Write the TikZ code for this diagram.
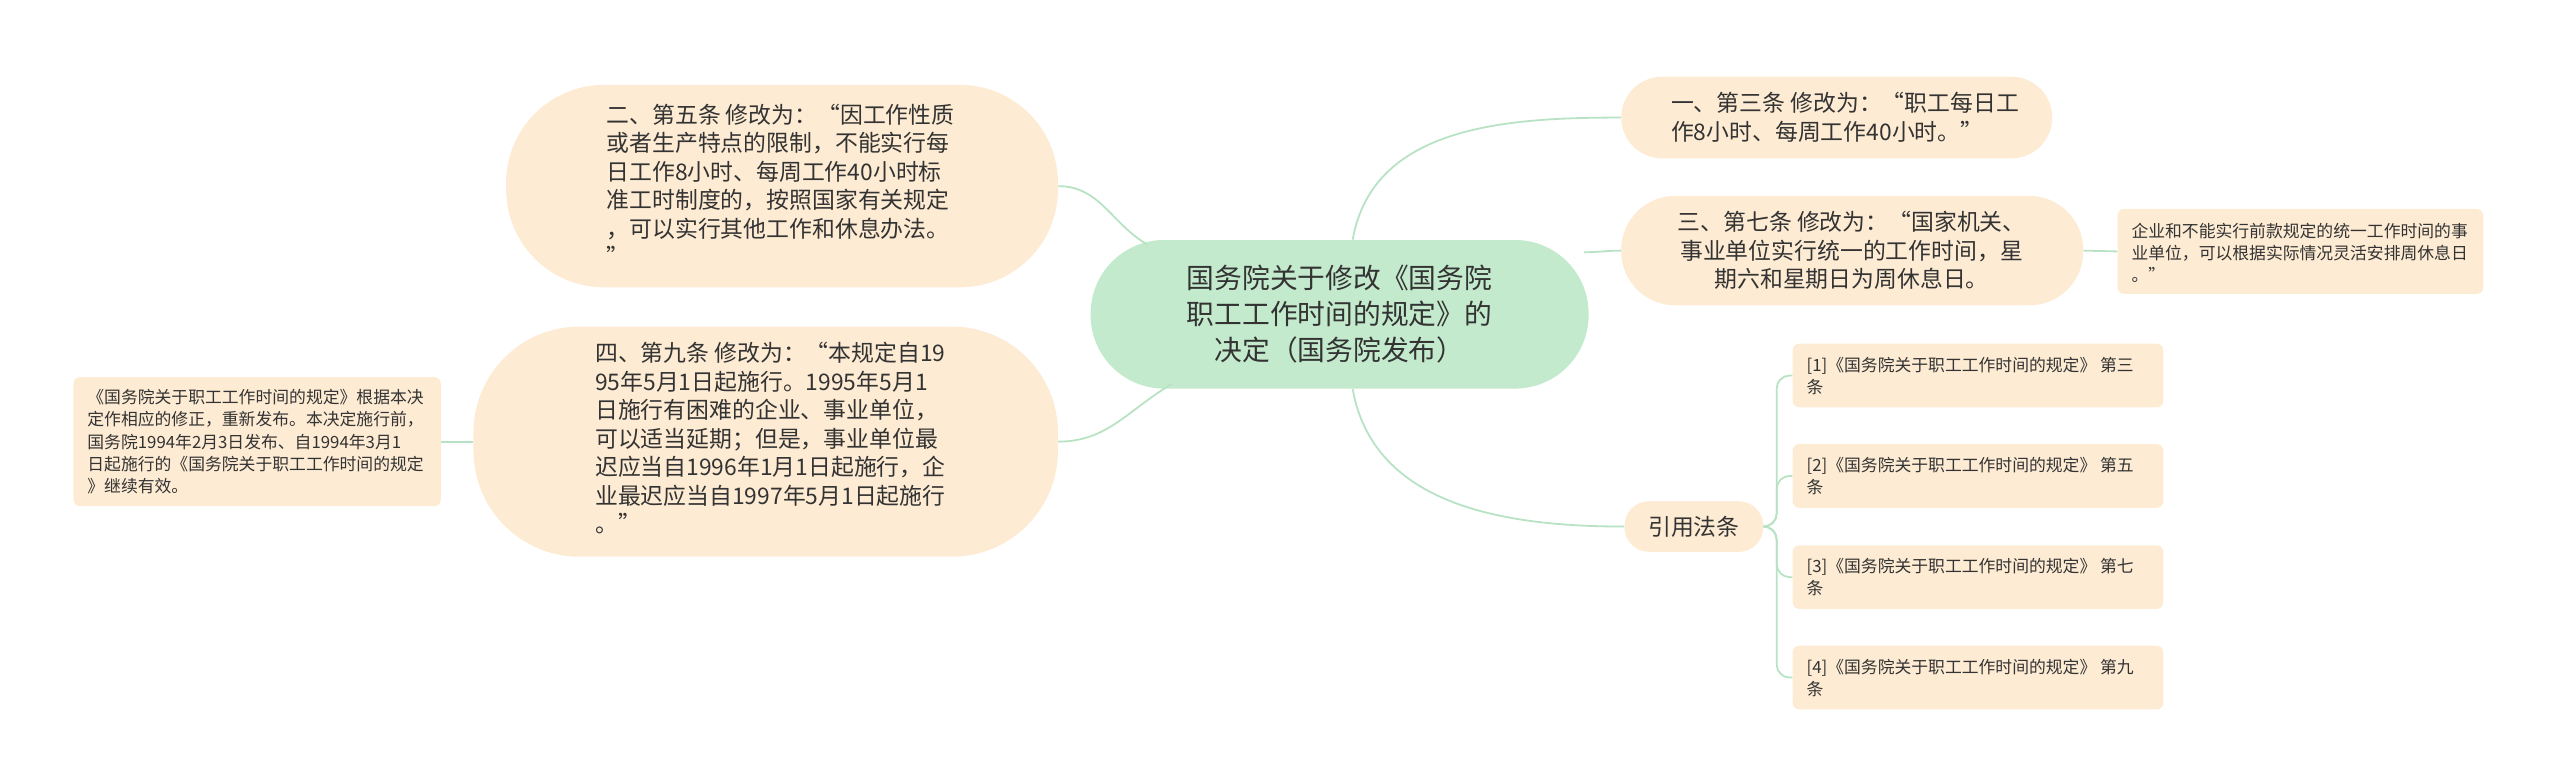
\documentclass[tikz,border=0pt]{standalone}
\usepackage{fontspec}
\setmainfont{Noto Sans CJK SC}
\begin{document}
\begin{tikzpicture}[x=1pt,y=1pt,
  box/.style={draw=none,fill=peach,rounded corners=#1,inner sep=0pt},
  box/.default=40,
  big/.style={font=\fontsize{14}{17.5}\selectfont,align=left,text=txt},
  small/.style={font=\fontsize{10.3}{13.6}\selectfont,align=left,text=txt},
  link/.style={draw=lnk,line width=1.1pt}]
\definecolor{peach}{HTML}{FDEBD3}
\definecolor{cgreen}{HTML}{C3EACC}
\definecolor{lnk}{HTML}{B8E2C4}
\definecolor{txt}{HTML}{333333}
\useasboundingbox (0,0) rectangle (1568,-480);
% center
\node[box=45,fill=cgreen,minimum width=305,minimum height=91,font=\fontsize{17}{22}\selectfont,align=center,text=txt] (c) at (820.5,-192.5) {国务院关于修改《国务院\\职工工作时间的规定》的\\决定（国务院发布）};
% left nodes
\node[box=60,minimum width=338,minimum height=124] (n2) at (479,-114) {};
\node[big,anchor=north west] (t2) at (368,-60) {二、第五条 修改为：“因工作性质\\或者生产特点的限制，不能实行每\\日工作8小时、每周工作40小时标\\准工时制度的，按照国家有关规定\\，可以实行其他工作和休息办法。\\”};
\node[box=65,minimum width=358,minimum height=141] (n4) at (469,-270.5) {};
\node[big,anchor=north west] (t4) at (361,-206) {四、第九条 修改为：“本规定自19\\95年5月1日起施行。1995年5月1\\日施行有困难的企业、事业单位，\\可以适当延期；但是，事业单位最\\迟应当自1996年1月1日起施行，企\\业最迟应当自1997年5月1日起施行\\。”};
\node[box=4,minimum width=225,minimum height=79] (l4) at (157.5,-270.5) {};
\node[small,anchor=north west] at (50,-235) {《国务院关于职工工作时间的规定》根据本决\\定作相应的修正，重新发布。本决定施行前，\\国务院1994年2月3日发布、自1994年3月1\\日起施行的《国务院关于职工工作时间的规定\\》继续有效。};
% right nodes
\node[box=25,minimum width=264,minimum height=50] (n1) at (1125,-72) {};
\node[big,anchor=north west] at (1020,-53) {一、第三条 修改为：“职工每日工\\作8小时、每周工作40小时。”};
\node[box=33,minimum width=283,minimum height=67] (n3) at (1134.5,-153.5) {};
\node[big,anchor=north west,align=center] at (1024,-126) {三、第七条 修改为：“国家机关、\\事业单位实行统一的工作时间，星\\期六和星期日为周休息日。};
\node[box=4,minimum width=224,minimum height=52] (l3) at (1409,-154) {};
\node[small,anchor=north west] at (1302,-133) {企业和不能实行前款规定的统一工作时间的事\\业单位，可以根据实际情况灵活安排周休息日\\。”};
\node[box=15,minimum width=85,minimum height=31,font=\fontsize{14}{17}\selectfont,text=txt] (yy) at (1037.5,-322.5) {引用法条};
\foreach \i/\y/\t in {1/230/三,2/291.5/五,3/353.5/七,4/415/九}{
  \node[box=4,minimum width=227,minimum height=39] (r\i) at (1211.5,-\y) {};
  \node[small,anchor=north west] at (1103,-\y+15) {[\i]《国务院关于职工工作时间的规定》 第\t\\条};
}
% links
\draw[link] (c.north west) ++(35,-3) to[out=150,in=0] (n2.east);
\draw[link] (c.south west) ++(50,3) to[out=210,in=0] (n4.east);
\draw[link] (l4.east) -- (n4.west);
\draw[link] (c.north) ++(8,0) to[out=80,in=180] (n1.west);
\draw[link] (c.east) ++(-3,38) to[out=0,in=180] (n3.west);
\draw[link] (n3.east) -- (l3.west);
\draw[link] (c.south) ++(8,0) to[out=-80,in=180] (yy.west);
\foreach \i in {1,2,3,4}{
  \draw[link,rounded corners=8] (yy.east) -- ++(8,0) |- (r\i.west);
}
\end{tikzpicture}
\end{document}
